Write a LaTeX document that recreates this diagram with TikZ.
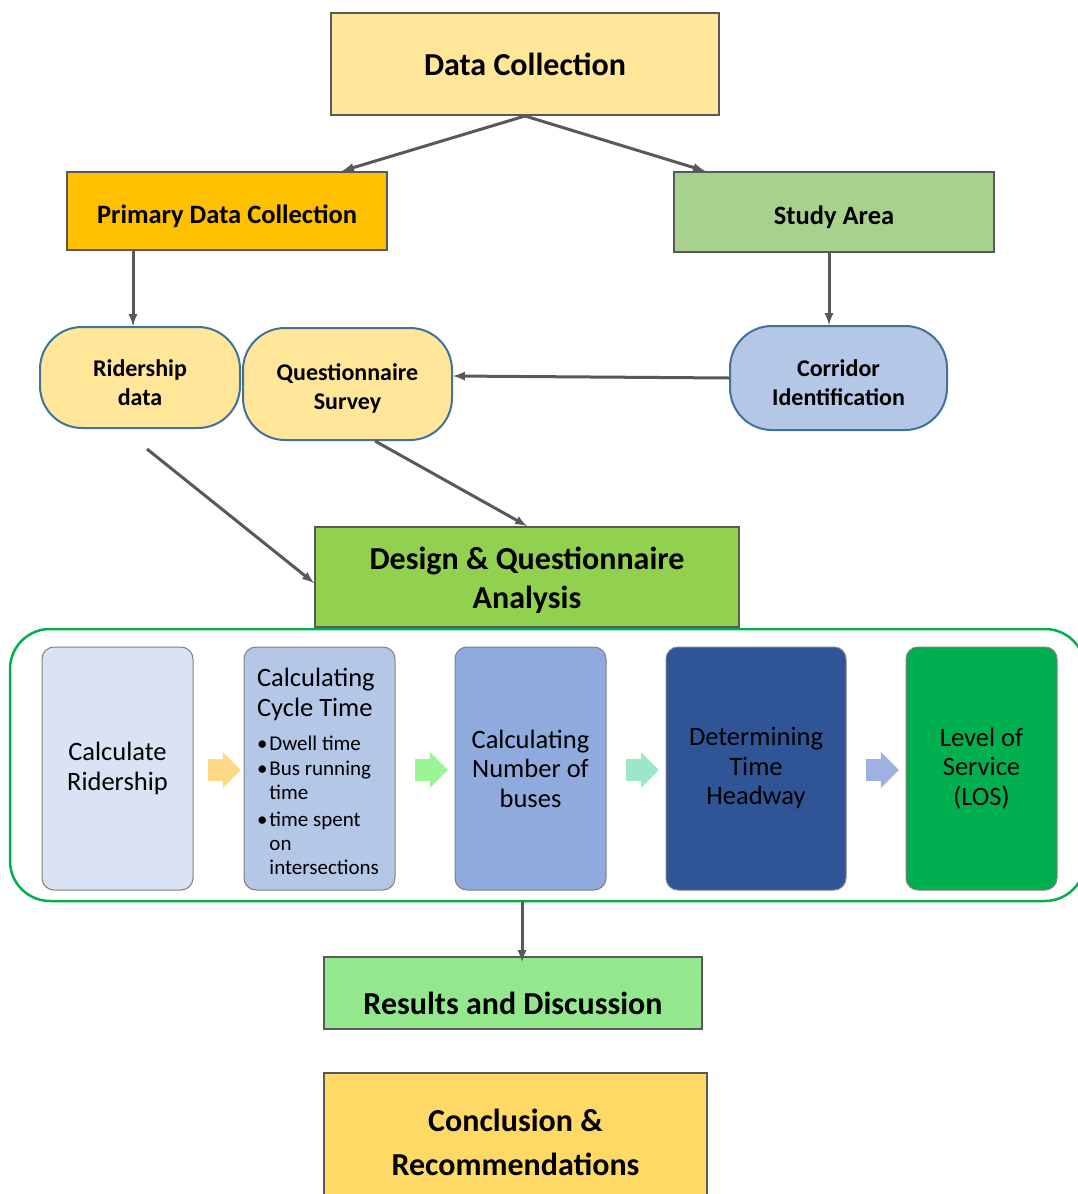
\documentclass[tikz,border=0pt]{standalone}
\usepackage{fontspec}
\setmainfont{Carlito}
\usetikzlibrary{arrows}
\usetikzlibrary{calc,shapes.arrows}

\definecolor{edge}{HTML}{595959}
\definecolor{dcfill}{HTML}{FFE699}
\definecolor{pdcfill}{HTML}{FFC000}
\definecolor{safill}{HTML}{A9D18E}
\definecolor{pillline}{HTML}{41719C}
\definecolor{cifill}{HTML}{B4C7E7}
\definecolor{desfill}{HTML}{92D050}
\definecolor{frameline}{HTML}{00B050}
\definecolor{sone}{HTML}{DAE3F3}
\definecolor{stwo}{HTML}{B4C7E7}
\definecolor{sthree}{HTML}{8FAADC}
\definecolor{sfour}{HTML}{2F5597}
\definecolor{sfive}{HTML}{00B050}
\definecolor{chone}{HTML}{FFD888}
\definecolor{chtwo}{HTML}{9CF594}
\definecolor{chthree}{HTML}{9BE8C8}
\definecolor{chfour}{HTML}{9FB1E0}
\definecolor{resfill}{HTML}{93E88D}
\definecolor{confill}{HTML}{FFD966}

\newcommand{\headfont}{\fontsize{32}{39}\selectfont\bfseries}
\newcommand{\subfont}{\fontsize{26.5}{30}\selectfont\bfseries}

\begin{document}
\begin{tikzpicture}[x=1pt,y=-1pt,thick,
    every node/.style={execute at begin node={\spaceskip=0pt\xspaceskip=0pt}},
    box/.style={draw=edge,line width=2pt,inner sep=0pt,align=center},
    pill/.style={draw=pillline,line width=2pt,rounded corners=42pt,inner sep=0pt,
        align=center,font=\fontsize{24}{29}\selectfont\bfseries,text depth=0pt},
    stage/.style={draw=gray,line width=1pt,rounded corners=12pt,minimum width=151pt,
        minimum height=243pt,inner sep=0pt,align=center,font=\fontsize{26.5}{29.5}\selectfont},
    chev/.style={single arrow,draw=none,inner sep=10.5pt,minimum height=27pt,
        minimum width=35pt,single arrow head extend=7pt},
    arr/.style={->,>=latex,draw=edge,line width=3pt}]
    \useasboundingbox (0,0) rectangle (1077,1194);

    % top of the chart
    \node[box,fill=dcfill,minimum width=388pt,minimum height=102pt,font=\headfont]
        (dc) at (525,64) {Data Collection};
    \node[box,fill=pdcfill,minimum width=320pt,minimum height=78pt,font=\subfont,
        text height=24pt,text depth=0pt] (pdc) at (227,211) {Primary Data Collection};
    \node[box,fill=safill,minimum width=320pt,minimum height=80pt,font=\subfont,
        text height=24pt,text depth=0pt] (sa) at (834,212) {Study Area};

    % the three rounded items
    \node[pill,fill=dcfill,minimum width=200pt,minimum height=101pt,text height=56pt]
        (rid) at (140,377.5) {Ridership\\data};
    \node[pill,fill=dcfill,minimum width=209pt,minimum height=112pt,text height=50pt]
        (qs) at (347.5,384) {Questionnaire\\Survey};
    \node[pill,fill=cifill,minimum width=217pt,minimum height=104pt,text height=54pt]
        (ci) at (838.5,378) {Corridor\\Identification};

    \node[box,fill=desfill,minimum width=424pt,minimum height=100pt,font=\headfont,
        text height=63pt,text depth=0pt]
        (des) at (527,577) {Design \& Questionnaire\\Analysis};

    % the process frame with its five stages
    \node[draw=frameline,line width=2.5pt,rounded corners=40pt,minimum width=1075pt,
        minimum height=272pt] (frame) at (547.5,765) {};
    \node[stage,fill=sone] (s1) at (117.5,768.5) {Calculate\\Ridership};
    \node[stage,fill=stwo,text width=125pt,align=left] (s2) at (319.5,768.5) {%
        \par\vspace*{2pt}Calculating\\Cycle Time\par\vspace{12pt}
        {\fontsize{21}{24}\selectfont
        \begin{tabular}{@{}l@{\hspace{2pt}}l@{}}
            \textbullet & Dwell time\\[1pt]
            \textbullet & Bus running\\
                        & time\\[3pt]
            \textbullet & time spent\\
                        & on\\
                        & intersections
        \end{tabular}}};
    \node[stage,fill=sthree] (s3) at (530.5,768.5) {Calculating\\Number of\\buses};
    \node[stage,fill=sfour,minimum width=180pt] (s4) at (756,768.5) {Determining\\Time\\Headway};
    \node[stage,fill=sfive] (s5) at (981.5,768.5) {Level of\\Service\\(LOS)};
    \foreach \x/\c [count=\i] in {219/chone,426/chtwo,637/chthree,877/chfour}
        \node[chev,fill=\c] (ch\i) at (\x,770) {};

    % bottom of the chart
    \node[box,fill=resfill,minimum width=378pt,minimum height=72pt,font=\headfont,
        text height=43pt,text depth=0pt] (res) at (513,993) {Results and Discussion};
    \node[box,fill=confill,minimum width=383pt,minimum height=138pt,font=\headfont,
        align=center] (con) at (515.5,1142)
        {Conclusion \&\\[5pt]Recommendations};

    % connectors
    \draw[arr] (dc.south) -- ([xshift=115pt]pdc.north);
    \draw[arr] (dc.south) -- ([xshift=-129pt]sa.north);
    \draw[arr] ([xshift=-7pt]rid.north |- pdc.south) -- ([xshift=-7pt]rid.north);
    \draw[arr] ([xshift=-9.5pt]ci.north |- sa.south) -- ([xshift=-9.5pt]ci.north);
    \draw[arr] (ci.west) -- ([yshift=8pt]qs.east);
    \draw[arr] ([xshift=7pt,yshift=-20pt]rid.south) -- ([yshift=-6pt]des.west);
    \draw[arr] ([xshift=27.5pt]qs.south) -- (des.north);
    \draw[arr] ([xshift=9pt]res.north |- frame.south) -- ([xshift=9pt,yshift=-6pt]res.north);
\end{tikzpicture}
\end{document}
